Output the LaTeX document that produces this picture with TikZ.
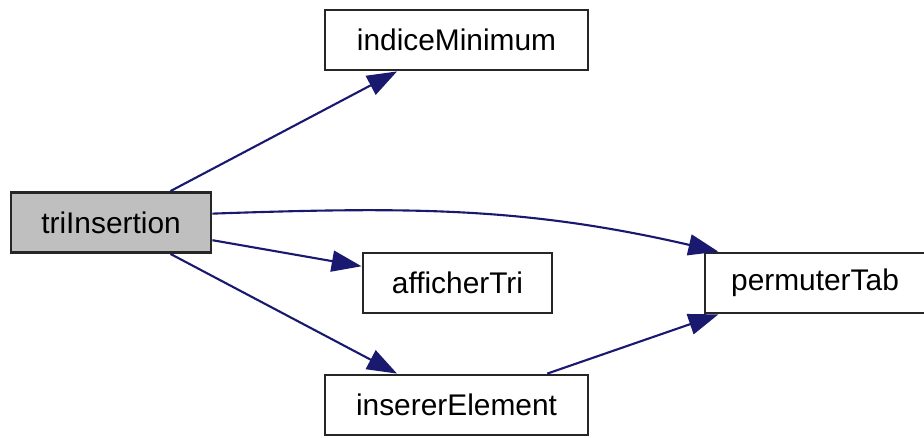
\documentclass[tikz,border=0pt]{standalone}
\usepackage{fontspec}
\setmainfont{Liberation Sans}
\usetikzlibrary{arrows.meta}
\definecolor{callblue}{RGB}{25,25,112}
\begin{document}
\begin{tikzpicture}[
    fn/.style={draw=black!85, line width=1.6pt, fill=white, inner sep=0pt,
      minimum height=1.2cm, font=\fontsize{17}{20}\selectfont},
    >={Triangle[length=17pt,width=12pt]}]
      \useasboundingbox (0,0) rectangle (18.48,-8.74);
      \draw
        (2.22,-4.45) node[fn, fill=black!25, minimum width=4.0cm] (triInsertion){triInsertion}
        (9.13,-0.80) node[fn, minimum width=5.26cm] (indiceMinimum){indiceMinimum}
        (9.15,-5.66) node[fn, minimum width=3.78cm] (afficherTri){afficherTri}
        (9.13,-8.10) node[fn, minimum width=5.26cm] (insererElement){insererElement}
        (16.3,-5.66) node[fn, minimum width=4.4cm] (permuterTab){permuterTab};
      \begin{scope}[->, draw=callblue, line width=1.2pt]
        \draw (triInsertion) to (indiceMinimum);
        \draw (triInsertion.5) to[out=2, in=167] (permuterTab.162);
        \draw (triInsertion) to (afficherTri);
        \draw (triInsertion) to (insererElement);
        \draw (insererElement) to (permuterTab.198);
      \end{scope}
    \end{tikzpicture}
\end{document}
